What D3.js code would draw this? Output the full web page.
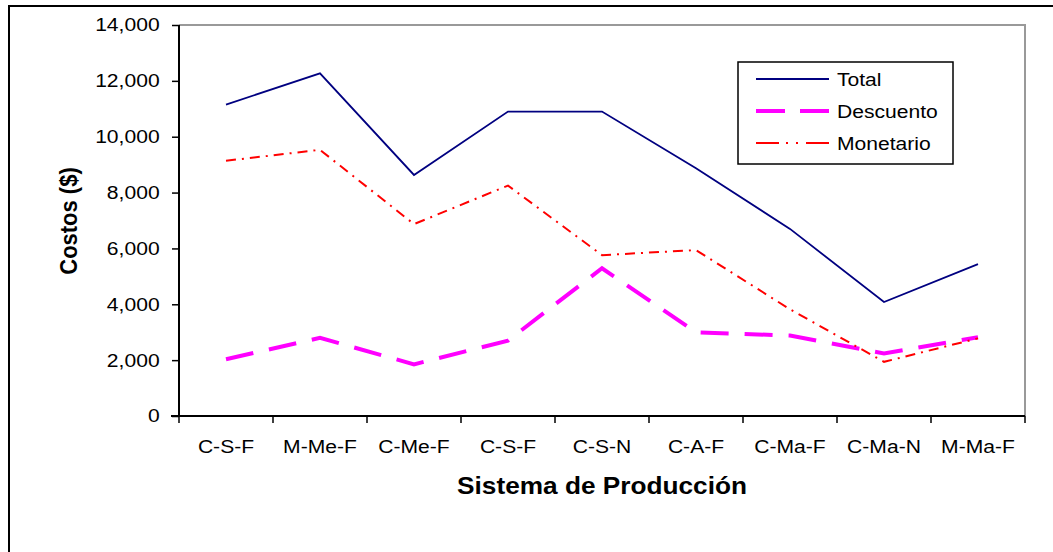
<!doctype html>
<html>
<head>
<meta charset="UTF-8">
<title>Costos por sistema de producción</title>
<script src="https://d3js.org/d3.v7.min.js"></script>
<style>
  body { margin: 0; background: #fff; }
  text { font-family: "Liberation Sans", Arial, sans-serif; fill: #000; }
</style>
</head>
<body>
<script>
// datos
var categorias = ["C-S-F", "M-Me-F", "C-Me-F", "C-S-F", "C-S-N", "C-A-F", "C-Ma-F", "C-Ma-N", "M-Ma-F"];
var total      = [11150, 12270, 8630, 10900, 10900, 8870, 6700, 4080, 5440];
var descuento  = [2030, 2800, 1850, 2700, 5290, 3000, 2880, 2240, 2820];
var monetario  = [9140, 9530, 6870, 8250, 5760, 5940, 3820, 1940, 2780];
var yTicks     = [0, 2000, 4000, 6000, 8000, 10000, 12000, 14000];

var w = 1053, h = 552;
var mLeft = 179, mRight = 1025, mTop = 25, mBottom = 416;
var estirar = "scale(1.14,1)"; // el original esta algo estirado a lo ancho

var svg = d3.select("body").append("svg")
    .attr("width", w)
    .attr("height", h);

// marco exterior
svg.append("rect")
    .attr("x", 9).attr("y", 6)
    .attr("width", w + 20).attr("height", h + 20)
    .attr("fill", "none").attr("stroke", "#000").attr("stroke-width", 2);

var x = d3.scaleBand().domain(d3.range(categorias.length)).range([mLeft, mRight]);
var y = d3.scaleLinear().domain([0, 14000]).range([mBottom, mTop]);

// borde gris del area de trazado
svg.append("path")
    .attr("d", "M" + mLeft + "," + mTop + "H" + mRight + "V" + mBottom)
    .attr("fill", "none").attr("stroke", "#999").attr("stroke-width", 2);

// eje y
var yAxis = svg.append("g")
    .attr("transform", "translate(" + mLeft + ",0)")
    .call(d3.axisLeft(y).tickValues(yTicks).tickSize(7).tickPadding(10)
        .tickFormat(d3.format(",")));
yAxis.select(".domain").attr("stroke", "#000").attr("stroke-width", 2)
    .attr("d", "M0," + mTop + "V" + (mBottom + 1));
yAxis.selectAll(".tick line").attr("stroke", "#000").attr("stroke-width", 1.5);
yAxis.selectAll("text").style("font-size", "18.5px").attr("fill", "#000")
    .attr("transform", estirar);

// eje x
var xAxis = svg.append("g")
    .attr("transform", "translate(0," + mBottom + ")")
    .call(d3.axisBottom(x).tickFormat(function(i) { return categorias[i]; }).tickSize(0).tickPadding(24));
xAxis.select(".domain").remove();
xAxis.selectAll("text").style("font-size", "18.5px").attr("fill", "#000")
    .attr("transform", estirar);

svg.append("line")
    .attr("x1", mLeft - 8).attr("x2", mRight)
    .attr("y1", mBottom).attr("y2", mBottom)
    .attr("stroke", "#000").attr("stroke-width", 2);

var bordes = d3.range(categorias.length + 1).map(function(i) { return mLeft + i * x.bandwidth(); });
svg.selectAll("line.xtick").data(bordes).enter().append("line")
    .attr("class", "xtick")
    .attr("x1", function(d) { return d; }).attr("x2", function(d) { return d; })
    .attr("y1", mBottom).attr("y2", mBottom + 7)
    .attr("stroke", "#000").attr("stroke-width", 1.5);

// titulos
svg.append("text")
    .attr("transform", "translate(" + ((mLeft + mRight) / 2) + ",494) " + estirar)
    .attr("text-anchor", "middle")
    .style("font-size", "23px").style("font-weight", "bold")
    .text("Sistema de Producción");

svg.append("text")
    .attr("transform", "translate(77,221) scale(1.1,1) rotate(-90)")
    .attr("text-anchor", "middle")
    .style("font-size", "22px").style("font-weight", "bold")
    .text("Costos ($)");

// series
var series = [
    { nombre: "Total", valores: total, color: "#000080", ancho: 1.8, dash: null, dashLeg: null },
    { nombre: "Descuento", valores: descuento, color: "#FF00FF", ancho: 4, dash: "28,16", dashLeg: "29,15" },
    { nombre: "Monetario", valores: monetario, color: "#FF0000", ancho: 2, dash: "10,6,2,6", dashLeg: "23,7,2,8,2,8" }
];

var linea = d3.line()
    .x(function(d, i) { return x(i) + x.bandwidth() / 2; })
    .y(function(d) { return y(d); });

series.forEach(function(s) {
    svg.append("path")
        .datum(s.valores)
        .attr("d", linea)
        .attr("fill", "none")
        .attr("stroke", s.color)
        .attr("stroke-width", s.ancho)
        .attr("stroke-dasharray", s.dash);
});

// leyenda
var leg = svg.append("g");
leg.append("rect")
    .attr("x", 738).attr("y", 62)
    .attr("width", 215).attr("height", 102)
    .attr("fill", "#fff").attr("stroke", "#000").attr("stroke-width", 1.5);

series.forEach(function(s, i) {
    var yy = 79 + i * 32;
    leg.append("line")
        .attr("x1", 756).attr("x2", 829)
        .attr("y1", yy).attr("y2", yy)
        .attr("stroke", s.color)
        .attr("stroke-width", s.ancho)
        .attr("stroke-dasharray", s.dashLeg);
    leg.append("text")
        .attr("transform", "translate(837," + (yy + 7) + ") " + estirar)
        .style("font-size", "18.5px")
        .text(s.nombre);
});
</script>
</body>
</html>
